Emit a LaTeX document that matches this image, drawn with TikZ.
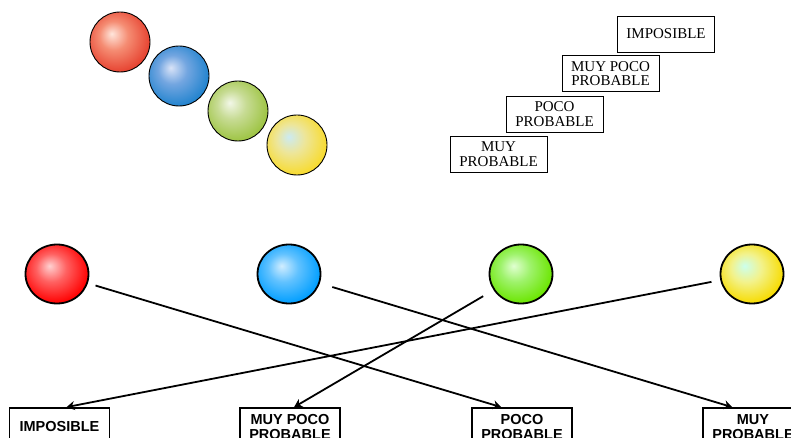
\documentclass[tikz,border=0pt]{standalone}
\usepackage{fontspec}
\setmainfont{Liberation Serif}
\newfontfamily\boxsans{Liberation Sans}
\usetikzlibrary{arrows.meta,shapes.geometric}
\pgfdeclareradialshading{topred}{\pgfpoint{-7bp}{7bp}}{rgb(0bp)=(1,.9,.86); rgb(12bp)=(.96,.55,.45); rgb(35bp)=(.88,.14,.08); rgb(50bp)=(.88,.14,.08)}
\pgfdeclareradialshading{topblue}{\pgfpoint{-7bp}{7bp}}{rgb(0bp)=(.85,.89,.97); rgb(12bp)=(.45,.65,.88); rgb(35bp)=(0,.46,.78); rgb(50bp)=(0,.46,.78)}
\pgfdeclareradialshading{topgreen}{\pgfpoint{-7bp}{7bp}}{rgb(0bp)=(.95,.97,.91); rgb(12bp)=(.78,.86,.58); rgb(35bp)=(.55,.73,.13); rgb(50bp)=(.55,.73,.13)}
\pgfdeclareradialshading{topyellow}{\pgfpoint{-7bp}{7bp}}{rgb(0bp)=(.8,.92,.95); rgb(12bp)=(.93,.9,.6); rgb(35bp)=(.99,.84,0); rgb(50bp)=(.99,.84,0)}
\pgfdeclareradialshading{botred}{\pgfpoint{-6bp}{7bp}}{rgb(0bp)=(1,.82,.82); rgb(12bp)=(1,.38,.38); rgb(28bp)=(1,0,0); rgb(35bp)=(.92,0,0); rgb(50bp)=(.92,0,0)}
\pgfdeclareradialshading{botblue}{\pgfpoint{-6bp}{7bp}}{rgb(0bp)=(.82,.93,1); rgb(12bp)=(.38,.76,1); rgb(28bp)=(0,.62,1); rgb(35bp)=(0,.56,.96); rgb(50bp)=(0,.56,.96)}
\pgfdeclareradialshading{botgreen}{\pgfpoint{-6bp}{7bp}}{rgb(0bp)=(.88,1,.82); rgb(12bp)=(.62,.95,.42); rgb(28bp)=(.42,.9,0); rgb(35bp)=(.38,.86,0); rgb(50bp)=(.38,.86,0)}
\pgfdeclareradialshading{botyellow}{\pgfpoint{-6bp}{7bp}}{rgb(0bp)=(.8,1,.93); rgb(12bp)=(.95,.95,.55); rgb(28bp)=(.97,.86,0); rgb(35bp)=(.95,.82,0); rgb(50bp)=(.95,.82,0)}
\begin{document}
\begin{tikzpicture}[x=1pt,y=-1pt,
  topball/.style={circle,draw=black,line width=0.9pt,minimum size=60pt,inner sep=0pt},
  botball/.style={ellipse,draw=black,line width=1.8pt,minimum width=63pt,minimum height=59pt,inner sep=0pt},
  topbox/.style={draw=black,line width=0.9pt,minimum width=97pt,minimum height=36pt,inner sep=0pt,align=center,font=\fontsize{15}{14.5}\selectfont},
  botbox/.style={draw=black,line width=1.8pt,minimum width=100pt,minimum height=38pt,inner sep=0pt,align=center,font=\boxsans\bfseries\fontsize{14.5}{15}\selectfont},
  link/.style={line width=1.8pt,-{Stealth[length=8pt,width=9pt]}}]
\useasboundingbox (0,0) rectangle (791,438);
\clip (0,0) rectangle (791,438);
\fill[white] (0,0) rectangle (791,438);
% top balls
\node[topball,shading=topred] (tr) at (120,42) {};
\node[topball,shading=topblue] (tb) at (179,76) {};
\node[topball,shading=topgreen] (tg) at (238,111) {};
\node[topball,shading=topyellow] (ty) at (297,145) {};
% top boxes
\node[topbox] (t1) at (666,34) {IMPOSIBLE};
\node[topbox] (t2) at (610.5,73.5) {MUY POCO\\PROBABLE};
\node[topbox] (t3) at (554.5,114) {POCO\\PROBABLE};
\node[topbox] (t4) at (498.5,154) {MUY\\PROBABLE};
% bottom balls
\node[botball,shading=botred] (br) at (57,274) {};
\node[botball,shading=botblue] (bb) at (289,274) {};
\node[botball,shading=botgreen] (bg) at (521,274) {};
\node[botball,shading=botyellow] (by) at (752,274) {};
% bottom boxes
\node[botbox] (b1) at (59.5,427) {IMPOSIBLE};
\node[botbox] (b2) at (290,427) {MUY POCO\\PROBABLE};
\node[botbox] (b3) at (522,427) {POCO\\PROBABLE};
\node[botbox] (b4) at (753,427) {MUY\\PROBABLE};
% connectors
\coordinate (e3) at ([xshift=30pt]b3.north west);
\coordinate (e4) at ([xshift=30pt]b4.north west);
\coordinate (e2) at ([xshift=55pt]b2.north west);
\coordinate (e1) at ([xshift=58pt]b1.north west);
\draw[link,shorten <=8pt] (br) -- (e3);
\draw[link,shorten <=13pt] (bb) -- (e4);
\draw[link,shorten <=12pt] (bg) -- (e2);
\draw[link,shorten <=9pt] (by) -- (e1);
\end{tikzpicture}
\end{document}
